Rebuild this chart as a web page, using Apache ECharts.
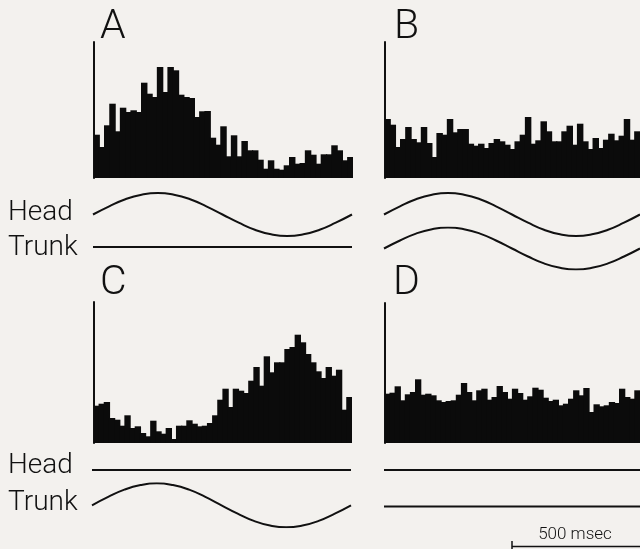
<!DOCTYPE html>
<html>
<head>
<meta charset="utf-8">
<script src="https://cdn.jsdelivr.net/npm/echarts@6/dist/echarts.min.js"></script>
<style>
html,body{margin:0;padding:0;background:#f3f1ee;}
#chart{width:640px;height:549px;}
</style>
</head>
<body>
<div id="chart"></div>
<script>
// Histogram bin counts (arbitrary units)
const binsA = [43.3,31,52.7,74.3,46.7,70.3,66,67.7,66,95.3,84.3,81,111,86,111,107.7,83.3,81,80,61,66.7,67,40.3,33.3,51.7,21.7,42.7,21.7,37,27.7,27.7,18.3,9.3,17.7,9.3,8.3,12.7,21,14.3,15,27.7,23.3,14.3,23.7,23.7,32.7,27.7,17.7,21];
const binsB = [59,53.3,31,39,51,39,35.7,51,35,21,45,43.3,59,45.7,49,49,34.3,32.3,34.3,30,35,39,36.7,33.3,29,36.7,43.3,61,34.3,37.7,56.7,46.7,36.7,36.7,46.7,52.3,33.3,54.3,36.7,29,40,30,38.3,44.3,37.7,42.3,59,38.3,46.7];
const binsC = [37.3,39.3,41,25,23.3,17.3,27.7,15,16.7,10,6.7,22.3,11.7,9.3,15,4,17.3,17.3,22.7,19.3,16.7,17.3,20,27.7,43.3,54.3,36,54.3,52.3,50,62.3,76,57.3,86.7,70.7,80.7,80.7,94,96,108.3,100.7,89,80.7,71.7,65,76,67.3,73.3,33.3,46];
const binsD = [49.3,50.3,56.7,42.7,48.7,51,63.7,48.3,49.3,47.7,42.7,41,42,42.7,48.3,60,51,42.7,52.7,54.3,43.3,46,57,51,44.3,54.3,50,43.3,46.7,55.3,53.3,45.3,42,43.3,37.7,39.3,44.3,52.7,47.7,55,31,38.7,36.7,37.7,41,40,54.3,46,44.3,52.7];

// Stimulus traces (time in ms, normalized position)
const waveTime = [0,62.5,125,187.5,250,312.5,375,437.5,500,562.5,625,687.5,750,812.5,875,937.5,1000];
const moving = [0,0.38,0.71,0.92,1,0.92,0.71,0.38,0,-0.38,-0.71,-0.92,-1,-0.92,-0.71,-0.38,0];
const still  = [0,0,0,0,0,0,0,0,0,0,0,0,0,0,0,0,0];
const headA = moving, trunkA = still;
const headB = moving, trunkB = moving;
const headC = still,  trunkC = moving;
const headD = still,  trunkD = still;

const panelLetters = ['A','B','C','D'];
const traceLabels = ['Head','Trunk'];
const scaleLabel = '500 msec';

const INK = '#111';
const BAR = '#0b0b0b';
const chart = echarts.init(document.getElementById('chart'), null, {renderer:'canvas'});

const grids = [], xAxes = [], yAxes = [], series = [];
function addBarPanel(data, g, ymax){
  const i = grids.length;
  grids.push(g);
  xAxes.push({type:'category', gridIndex:i, data:data.map((_,k)=>k), show:false, boundaryGap:true});
  yAxes.push({type:'value', gridIndex:i, min:0, max:ymax,
    axisLine:{show:true, lineStyle:{color:INK, width:2}},
    axisTick:{show:false}, axisLabel:{show:false}, splitLine:{show:false}});
  series.push({type:'bar', xAxisIndex:i, yAxisIndex:i, data:data,
    barWidth: g.width / data.length + 1.2,
    itemStyle:{color:BAR}, silent:true});
}
function addTrace(vals, g){
  const i = grids.length;
  grids.push(g);
  xAxes.push({type:'value', gridIndex:i, min:0, max:1000, show:false});
  yAxes.push({type:'value', gridIndex:i, min:-1, max:1, show:false});
  series.push({type:'line', xAxisIndex:i, yAxisIndex:i, smooth:true, showSymbol:false, silent:true,
    lineStyle:{color:INK, width:2}, data:waveTime.map((t,k)=>[t, vals[k]])});
}

addBarPanel(binsA, {left:94, top:42, width:259, height:136}, 136);
addBarPanel(binsB, {left:385, top:42, width:259, height:136}, 136);
addBarPanel(binsC, {left:94, top:302, width:258, height:141}, 141);
addBarPanel(binsD, {left:385, top:303, width:256, height:140}, 140);

addTrace(headA,  {left:93, top:193, width:259, height:43});
addTrace(trunkA, {left:93, top:225.5, width:259, height:43});
addTrace(headB,  {left:384, top:193, width:259, height:43});
addTrace(trunkB, {left:384, top:227.5, width:259, height:42});
addTrace(headC,  {left:92, top:448.5, width:259, height:43});
addTrace(trunkC, {left:92, top:483.3, width:259, height:44});
addTrace(headD,  {left:384, top:448.5, width:259, height:43});
addTrace(trunkD, {left:384, top:485, width:259, height:43});

function txt(s, x, y, size, align){
  return {type:'text', x:x, y:y, silent:true,
    style:{text:s, fill:INK, font:'300 '+size+'px Roboto, "Liberation Sans", sans-serif',
      textAlign:align||'left', textVerticalAlign:'middle'}};
}
const graphics = [
  txt(panelLetters[0], 100, 27.7, 41),
  txt(panelLetters[1], 394, 27.7, 41),
  txt(panelLetters[2], 100, 284, 41),
  txt(panelLetters[3], 393, 284, 41),
  txt(traceLabels[0], 8, 212.5, 28),
  txt(traceLabels[1], 8, 247.5, 28),
  txt(traceLabels[0], 8, 466, 28),
  txt(traceLabels[1], 8, 502.5, 28),
  txt(scaleLabel, 575, 535, 17, 'center'),
  {type:'line', silent:true, shape:{x1:512, y1:546.5, x2:645, y2:546.5}, style:{stroke:INK, lineWidth:1.5}},
  {type:'line', silent:true, shape:{x1:512, y1:541, x2:512, y2:549}, style:{stroke:INK, lineWidth:1.5}}
];

chart.setOption({
  backgroundColor:'#f3f1ee',
  animation:false,
  grid:grids, xAxis:xAxes, yAxis:yAxes, series:series,
  graphic:graphics
});
</script>
</body>
</html>
